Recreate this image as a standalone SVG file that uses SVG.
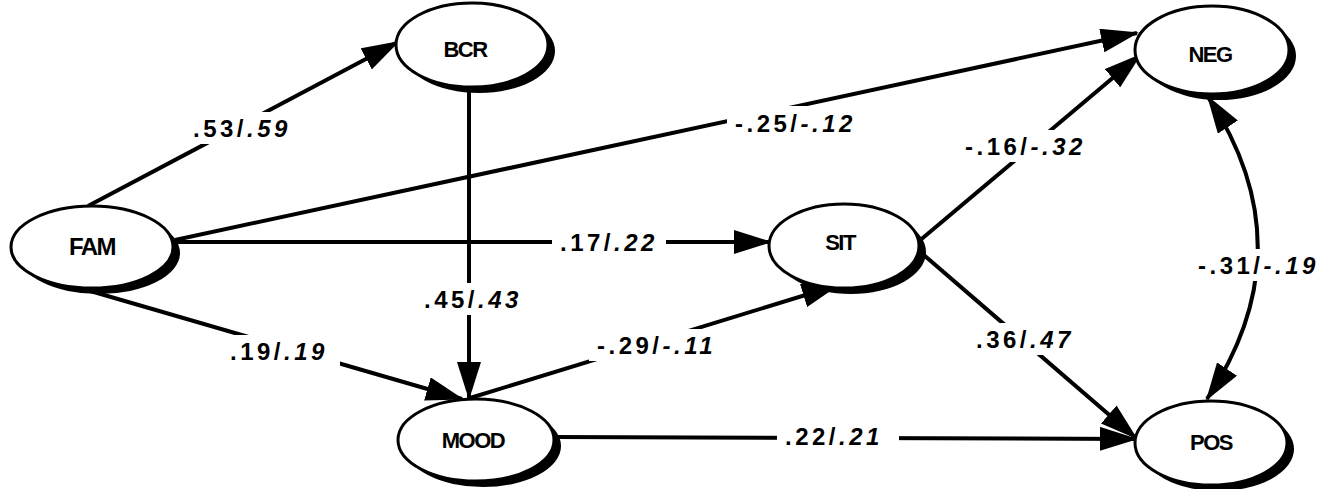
<svg xmlns="http://www.w3.org/2000/svg" width="1332" height="489" viewBox="0 0 1332 489">
  <style>
    .edge { fill: none; stroke: #000; stroke-width: 4; }
    .shadow { fill: #000; }
    .oval { fill: #fff; stroke: #000; stroke-width: 3; }
    .name { font-family: "Liberation Sans", Arial, sans-serif; font-size: 22px; font-weight: bold; letter-spacing: -1.5px; text-anchor: middle; fill: #000; }
    .lbl { font-family: "Liberation Sans", Arial, sans-serif; font-size: 24px; font-weight: bold; letter-spacing: 3.5px; fill: #000; }
    .lbl tspan.i { font-style: italic; }
    .knock { fill: #fff; }
  </style>
  <defs>
    <marker id="head" viewBox="0 0 38 24" refX="36" refY="12" markerWidth="38" markerHeight="24" markerUnits="userSpaceOnUse" orient="auto-start-reverse">
      <path d="M0,0 L38,12 L0,24 Z" fill="#000"/>
    </marker>
  </defs>

  <rect width="1332" height="489" fill="#fff"/>

  <!-- path connectors -->
  <g id="connectors">
    <path class="edge" d="M88,206 L398,42" marker-end="url(#head)"/>
    <path class="edge" d="M175,240 L1137,33" marker-end="url(#head)"/>
    <path class="edge" d="M176,242 L770,242" marker-end="url(#head)"/>
    <path class="edge" d="M80,288 L462,399" marker-end="url(#head)"/>
    <path class="edge" d="M469,88 L469,398" marker-end="url(#head)"/>
    <path class="edge" d="M470,398 L838,285" marker-end="url(#head)"/>
    <path class="edge" d="M918,242 L1140,55" marker-end="url(#head)"/>
    <path class="edge" d="M918,250 L1136,438" marker-end="url(#head)"/>
    <path class="edge" d="M554,437 L1136,439" marker-end="url(#head)"/>
    <path class="edge" d="M1208,97 Q1308,248 1207,399" marker-start="url(#head)" marker-end="url(#head)"/>

    <!-- coefficient labels -->
    <g id="lbl-fam-bcr"><rect class="knock" x="185" y="112" width="112" height="32"/><text class="lbl" x="193" y="137">.53/<tspan class="i">.59</tspan></text></g>
    <g id="lbl-fam-neg"><rect class="knock" x="727" y="106" width="144" height="32"/><text class="lbl" x="735" y="132">-.25/<tspan class="i">-.12</tspan></text></g>
    <g id="lbl-fam-sit"><rect class="knock" x="552" y="226" width="114" height="32"/><text class="lbl" x="560" y="251">.17/<tspan class="i">.22</tspan></text></g>
    <g id="lbl-sit-neg"><rect class="knock" x="957" y="130" width="140" height="32"/><text class="lbl" x="965" y="155">-.16/<tspan class="i">-.32</tspan></text></g>
    <g id="lbl-bcr-mood"><rect class="knock" x="416" y="283" width="112" height="32"/><text class="lbl" x="424" y="308">.45/<tspan class="i">.43</tspan></text></g>
    <g id="lbl-fam-mood"><rect class="knock" x="222" y="335" width="118" height="32"/><text class="lbl" x="230" y="360">.19/<tspan class="i">.19</tspan></text></g>
    <g id="lbl-mood-sit"><rect class="knock" x="589" y="329" width="138" height="32"/><text class="lbl" x="597" y="354">-.29/<tspan class="i">-.11</tspan></text></g>
    <g id="lbl-sit-pos"><rect class="knock" x="968" y="323" width="114" height="32"/><text class="lbl" x="976" y="348">.36/<tspan class="i">.47</tspan></text></g>
    <g id="lbl-neg-pos"><rect class="knock" x="1190" y="249" width="134" height="32"/><text class="lbl" x="1198" y="274">-.31/<tspan class="i">-.19</tspan></text></g>
    <g id="lbl-mood-pos"><rect class="knock" x="777" y="420" width="122" height="32"/><text class="lbl" x="785" y="445">.22/<tspan class="i">.21</tspan></text></g>
  </g>

  <!-- nodes: drop-shadowed ovals -->
  <g id="FAM">
    <ellipse class="shadow" cx="99" cy="253" rx="81" ry="41"/>
    <ellipse class="oval" cx="92" cy="247" rx="81" ry="41"/>
    <text class="name" x="92" y="255" style="font-size:24px">FAM</text>
  </g>
  <g id="BCR">
    <ellipse class="shadow" cx="479" cy="51" rx="76" ry="42"/>
    <ellipse class="oval" cx="472" cy="45" rx="76" ry="42"/>
    <text class="name" x="465" y="57">BCR</text>
  </g>
  <g id="NEG">
    <ellipse class="shadow" cx="1219" cy="56" rx="77" ry="44"/>
    <ellipse class="oval" cx="1212" cy="50" rx="77" ry="44"/>
    <text class="name" x="1210" y="62">NEG</text>
  </g>
  <g id="SIT">
    <ellipse class="shadow" cx="851" cy="252" rx="75" ry="42"/>
    <ellipse class="oval" cx="844" cy="246" rx="75" ry="42"/>
    <text class="name" x="840" y="250">SIT</text>
  </g>
  <g id="MOOD">
    <ellipse class="shadow" cx="483" cy="446" rx="78" ry="41"/>
    <ellipse class="oval" cx="476" cy="440" rx="78" ry="41"/>
    <text class="name" x="473" y="448">MOOD</text>
  </g>
  <g id="POS">
    <ellipse class="shadow" cx="1218" cy="449" rx="76" ry="42"/>
    <ellipse class="oval" cx="1211" cy="443" rx="76" ry="42"/>
    <text class="name" x="1211" y="450">POS</text>
  </g>
</svg>
